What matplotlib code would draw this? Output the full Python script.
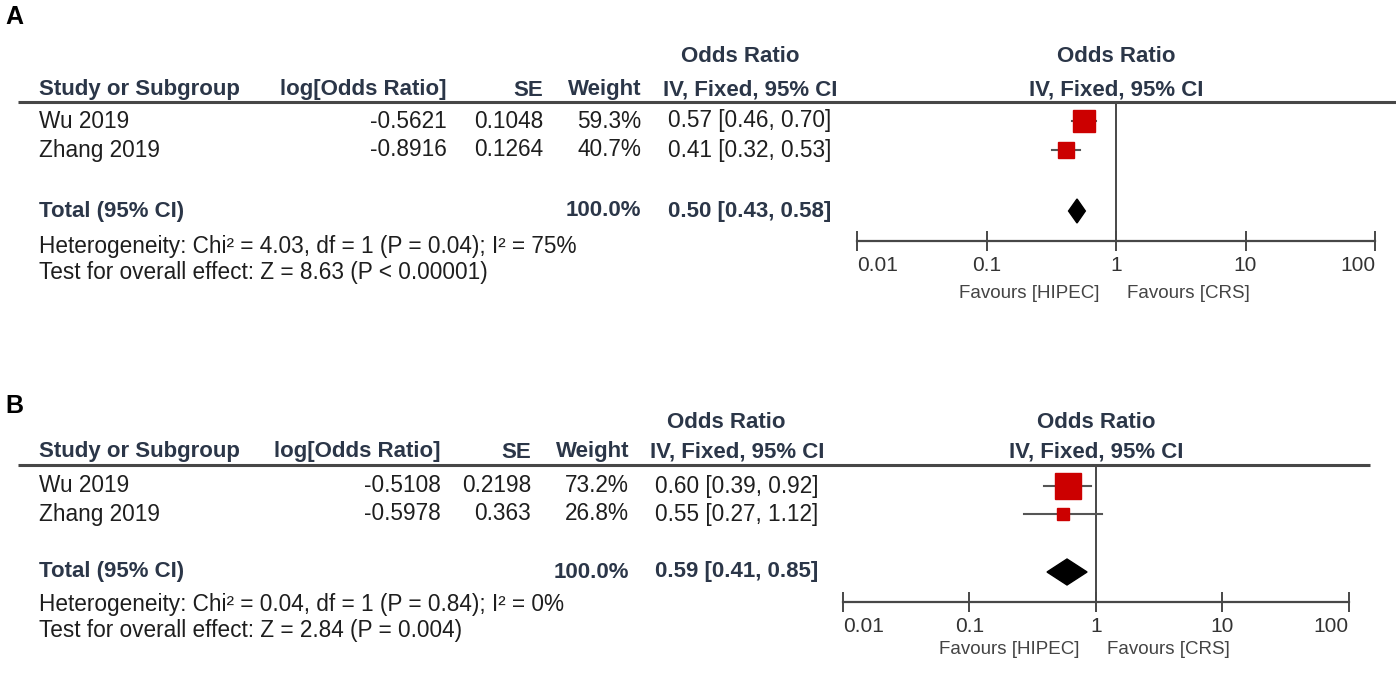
import numpy as np
import matplotlib.pyplot as plt

plt.rcParams['font.family'] = ['Liberation Sans', 'DejaVu Sans']

W, H = 1396, 682

# ---- data, panel A
a_studies = ['Wu 2019', 'Zhang 2019']
a_log_or = [-0.5621, -0.8916]
a_se = [0.1048, 0.1264]
a_weight = [59.3, 40.7]
a_or = [0.57, 0.41]
a_lo = [0.46, 0.32]
a_hi = [0.70, 0.53]
a_total = [0.50, 0.43, 0.58]
a_het = 'Heterogeneity: Chi\u00b2 = 4.03, df = 1 (P = 0.04); I\u00b2 = 75%'
a_test = 'Test for overall effect: Z = 8.63 (P < 0.00001)'

# ---- data, panel B
b_studies = ['Wu 2019', 'Zhang 2019']
b_log_or = [-0.5108, -0.5978]
b_se = [0.2198, 0.363]
b_weight = [73.2, 26.8]
b_or = [0.60, 0.55]
b_lo = [0.39, 0.27]
b_hi = [0.92, 1.12]
b_total = [0.59, 0.41, 0.85]
b_het = 'Heterogeneity: Chi\u00b2 = 0.04, df = 1 (P = 0.84); I\u00b2 = 0%'
b_test = 'Test for overall effect: Z = 2.84 (P = 0.004)'

ticks = [0.01, 0.1, 1, 10, 100]
tick_labels = ['0.01', '0.1', '1', '10', '100']

# layout in pixels
LAYOUT_A = dict(tag='A', tag_y=17, title_y=57, head_y=90, line_y=101.5, line_x=(18, 1396),
                rows=[121, 150], total_y=211, het_y=246, test_y=272,
                study_x=39, logor_r=447, se_r=543, wt_r=641, ci_c=750, title_c=740,
                ax_x=(857, 1375), ax_bot=241, fav_off=52, half_h=12)
LAYOUT_B = dict(tag='B', tag_y=406, title_y=422, head_y=452, line_y=465, line_x=(18, 1370),
                rows=[486, 514], total_y=572, het_y=605, test_y=630,
                study_x=39, logor_r=441, se_r=531, wt_r=629, ci_c=737, title_c=726,
                ax_x=(843, 1349), ax_bot=602, fav_off=47, half_h=13)

BOLD_C = '#2b3648'
TEXT_C = '#1e1e1e'
LINE_C = '#474747'
FS_N = 16.3
FS_B = 16

fig = plt.figure(figsize=(W / 100, H / 100), dpi=100)
bg = fig.add_axes([0, 0, 1, 1])
bg.set_xlim(0, W)
bg.set_ylim(H, 0)
bg.axis('off')


def draw_panel(lay, studies, log_or, se, weight, orr, lo, hi, total, het, test):
    bg.text(5, lay['tag_y'], lay['tag'], fontsize=18, fontweight='bold', color='black', va='center')

    # table header
    hb = dict(fontsize=FS_B, fontweight='bold', color=BOLD_C)
    bg.text(lay['title_c'], lay['title_y'], 'Odds Ratio', ha='center', va='center', **hb)
    bg.text(lay['study_x'], lay['head_y'], 'Study or Subgroup', ha='left', va='center', **hb)
    bg.text(lay['logor_r'], lay['head_y'], 'log[Odds Ratio]', ha='right', va='center', **hb)
    bg.text(lay['se_r'], lay['head_y'], 'SE', ha='right', va='center', **hb)
    bg.text(lay['wt_r'], lay['head_y'], 'Weight', ha='right', va='center', **hb)
    bg.text(lay['ci_c'], lay['head_y'], 'IV, Fixed, 95% CI', ha='center', va='center', **hb)
    bg.plot(lay['line_x'], [lay['line_y']] * 2, color=LINE_C, lw=2.2, solid_capstyle='butt')

    tn = dict(fontsize=FS_N, color=TEXT_C, va='center')
    for i, name in enumerate(studies):
        y = lay['rows'][i]
        bg.text(lay['study_x'], y, name, ha='left', **tn)
        bg.text(lay['logor_r'], y, f'{log_or[i]:g}', ha='right', **tn)
        bg.text(lay['se_r'], y, f'{se[i]:g}', ha='right', **tn)
        bg.text(lay['wt_r'], y, f'{weight[i]:.1f}%', ha='right', **tn)
        bg.text(lay['ci_c'], y, f'{orr[i]:.2f} [{lo[i]:.2f}, {hi[i]:.2f}]', ha='center', **tn)

    bg.text(lay['study_x'], lay['total_y'], 'Total (95% CI)', ha='left', va='center', **hb)
    bg.text(lay['wt_r'], lay['total_y'], f'{sum(weight):.1f}%', ha='right', va='center', **hb)
    bg.text(lay['ci_c'], lay['total_y'], f'{total[0]:.2f} [{total[1]:.2f}, {total[2]:.2f}]',
            ha='center', va='center', **hb)
    bg.text(lay['study_x'], lay['het_y'], het, ha='left', **tn)
    bg.text(lay['study_x'], lay['test_y'], test, ha='left', **tn)

    # forest plot
    x0, x1 = lay['ax_x']
    top, bot = lay['line_y'], lay['ax_bot']
    ax = fig.add_axes([x0 / W, 1 - bot / H, (x1 - x0) / W, (bot - top) / H])
    ax.set_xscale('log')
    ax.set_xlim(ticks[0], ticks[-1])
    ax.set_ylim(bot, top)
    ax.patch.set_alpha(0)
    for s in ['top', 'left', 'right']:
        ax.spines[s].set_visible(False)
    ax.spines['bottom'].set_color(LINE_C)
    ax.spines['bottom'].set_linewidth(1.6)
    ax.set_yticks([])
    ax.minorticks_off()
    ax.set_xticks(ticks)
    ax.set_xticklabels(tick_labels)
    ax.tick_params(axis='x', direction='inout', length=14, width=1.4, color=LINE_C,
                   labelsize=15, labelcolor='#333333', pad=4)
    labs = ax.get_xticklabels()
    labs[0].set_ha('left')
    labs[-1].set_ha('right')

    ax.axvline(1, color=LINE_C, lw=1.4, zorder=1)

    for i in range(len(studies)):
        y = lay['rows'][i]
        ax.plot([lo[i], hi[i]], [y, y], color='#555555', lw=1.5, zorder=2)
        side = (5 + 0.28 * weight[i]) * 0.72
        ax.plot(orr[i], y, marker='s', ms=side, color='#cc0000', mec='#cc0000',
                ls='none', zorder=3)

    ty, hh = lay['total_y'], lay['half_h']
    ax.fill([total[1], total[0], total[2], total[0]], [ty, ty - hh, ty, ty + hh],
            color='black', zorder=3)

    # right-hand headers and favours labels
    off = (lay['line_y'] - lay['head_y']) * 0.72
    ax.annotate('IV, Fixed, 95% CI', xy=(1, 1), xycoords=('data', 'axes fraction'),
                xytext=(0, off), textcoords='offset points', ha='center', va='center', **hb)
    off2 = (lay['line_y'] - lay['title_y']) * 0.72
    ax.annotate('Odds Ratio', xy=(1, 1), xycoords=('data', 'axes fraction'),
                xytext=(0, off2), textcoords='offset points', ha='center', va='center', **hb)
    fo = -lay['fav_off'] * 0.72
    ax.annotate('Favours [HIPEC]', xy=(1, 0), xycoords=('data', 'axes fraction'),
                xytext=(-12, fo), textcoords='offset points', ha='right', va='center',
                fontsize=13.5, color='#444444')
    ax.annotate('Favours [CRS]', xy=(1, 0), xycoords=('data', 'axes fraction'),
                xytext=(8, fo), textcoords='offset points', ha='left', va='center',
                fontsize=13.5, color='#444444')


draw_panel(LAYOUT_A, a_studies, a_log_or, a_se, a_weight, a_or, a_lo, a_hi, a_total, a_het, a_test)
draw_panel(LAYOUT_B, b_studies, b_log_or, b_se, b_weight, b_or, b_lo, b_hi, b_total, b_het, b_test)

fig.savefig('out.png', dpi=100)
